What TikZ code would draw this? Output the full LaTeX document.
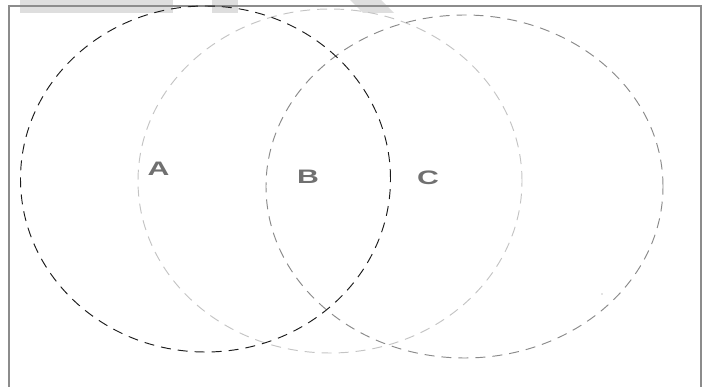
\documentclass[tikz,border=0pt]{standalone}
\usepackage{fontspec}
\setmainfont{Liberation Sans}
\usepackage{graphicx}
\definecolor{ringA}{HTML}{1C1C1C}
\definecolor{ringB}{HTML}{C4C4C4}
\definecolor{ringC}{HTML}{8A8A8A}
\definecolor{framegrey}{HTML}{8C8C8C}
\definecolor{markgrey}{HTML}{DEDEDE}
\definecolor{labelgrey}{HTML}{707070}
\tikzset{
  ring/.style={line width=0.95pt, dash pattern=on 10pt off 7pt},
  setlabel/.style={text=labelgrey, inner sep=0pt, font=\bfseries\fontsize{19.5}{20}\selectfont},
}
\begin{document}
\begin{tikzpicture}[x=1pt,y=-1pt]
\useasboundingbox (0,0) rectangle (707,387);
% faint watermark remnants at the top edge
\fill[markgrey] (20,0) rectangle (173,13);
\fill[markgrey] (212,0) rectangle (238,13);
\fill[markgrey] (350,0) -- (381,0) -- (394,13) -- (363,13) -- cycle;
% frame
\draw[framegrey, line width=1.2pt] (9,400) -- (9,6) -- (701,6) -- (701,400);
% circles
\draw[ring, ringB] (330,181) ellipse [x radius=192pt, y radius=172pt];
\draw[ring, ringC] (464.5,186.5) ellipse [x radius=198.5pt, y radius=171.5pt];
\draw[ring, ringA] (205.5,179) ellipse [x radius=185pt, y radius=173pt];
\fill[ringC] (602,294) circle [radius=0.7pt];
% labels
\node[setlabel] (A) at (158.5,169) {\scalebox{1.55}[1]{A}};
\node[setlabel] (B) at (308,177) {\scalebox{1.55}[1]{B}};
\node[setlabel] (C) at (428,178) {\scalebox{1.55}[1]{C}};
\end{tikzpicture}
\end{document}
